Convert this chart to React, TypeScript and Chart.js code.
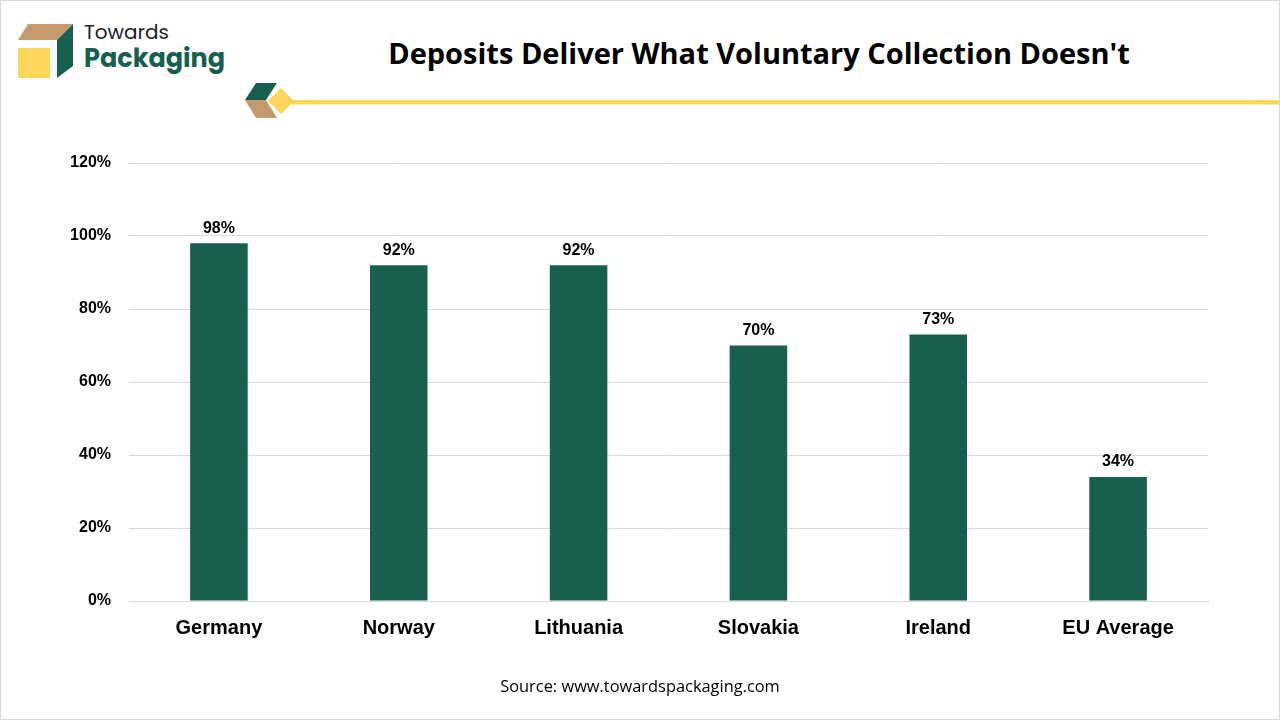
import React, { useEffect, useRef } from 'react';
import { Chart } from 'chart.js/auto';

const countries = ['Germany', 'Norway', 'Lithuania', 'Slovakia', 'Ireland', 'EU Average'];
const collectionRates = [98, 92, 92, 70, 73, 34];
const yTicks = [0, 20, 40, 60, 80, 100, 120];

const GREEN = '#17604f';
const TAN = '#c49a6c';
const YELLOW = '#fcd65b';

const valueLabels = {
  id: 'valueLabels',
  afterDatasetsDraw(chart: Chart) {
    const ctx = chart.ctx;
    const meta = chart.getDatasetMeta(0);
    ctx.save();
    ctx.font = 'bold 16px "Liberation Sans", Arial, sans-serif';
    ctx.fillStyle = '#000';
    ctx.textAlign = 'center';
    ctx.textBaseline = 'bottom';
    meta.data.forEach((bar: any, i: number) => {
      ctx.fillText(collectionRates[i] + '%', bar.x, bar.y - 7);
    });
    ctx.restore();
  },
};

function BarChart() {
  const ref = useRef<HTMLCanvasElement>(null);
  const chartRef = useRef<Chart | null>(null);
  useEffect(() => {
    if (!ref.current) return;
    const ctx = ref.current.getContext('2d'); if (!ctx) return;
    chartRef.current?.destroy();
    chartRef.current = new Chart(ctx, {
      type: 'bar',
      data: {
        labels: countries,
        datasets: [{ data: collectionRates, backgroundColor: GREEN, barPercentage: 0.64, categoryPercentage: 0.5 }],
      },
      options: {
        responsive: false,
        animation: false,
        layout: { padding: { top: 32, right: 72, bottom: 60, left: 0 } },
        plugins: { legend: { display: false }, tooltip: { enabled: false } },
        scales: {
          x: {
            grid: { display: false, drawTicks: false },
            border: { display: true, color: '#d9d9d9' },
            ticks: { color: '#000', padding: 15, font: { family: '"Liberation Sans", Arial, sans-serif', size: 20, weight: 'bold' } },
            afterFit: (s: any) => { s.height = 60; },
          },
          y: {
            min: 0,
            max: 120,
            afterBuildTicks: (s: any) => { s.ticks = yTicks.map(v => ({ value: v })); },
            grid: { color: '#d9d9d9', drawTicks: false },
            border: { display: false },
            ticks: {
              color: '#000',
              padding: 18,
              font: { family: '"Liberation Sans", Arial, sans-serif', size: 16, weight: 'bold' },
              callback: (v: any) => v + '%',
            },
            afterFit: (s: any) => { s.width = 129; },
          },
        },
      },
      plugins: [valueLabels],
    });
    return () => chartRef.current?.destroy();
  }, []);
  return <canvas ref={ref} width={1280} height={590} style={{ position: 'absolute', left: -1, top: 130 }} />;
}

export default function App() {
  return (
    <div style={{ position: 'absolute', left: 0, top: 0, width: 1280, height: 720, background: '#fff', border: '1px solid #d9d9d9', boxSizing: 'border-box', overflow: 'hidden' }}>
      <svg width={1280} height={130} style={{ position: 'absolute', left: -1, top: -1 }}>
        <polygon points="28,24 73,24 57,40 18,40" fill={TAN} />
        <polygon points="57,40 73,24 73,66 57,78" fill={GREEN} />
        <rect x={18} y={48} width={32} height={30} fill={YELLOW} />
        <text x={84} y={39} fontFamily="Poppins, 'Open Sans', sans-serif" fontSize={20} fill="#222">Towards</text>
        <text x={84} y={67} fontFamily="Poppins, 'Open Sans', sans-serif" fontSize={25.5} fontWeight="bold" fill={GREEN}>Packaging</text>
        <polygon points="245,100 256,83 277,83 266,100" fill={GREEN} />
        <polygon points="245,100 266,100 277,118 256,118" fill={TAN} />
        <rect x={285} y={100} width={995} height={4.5} fill={YELLOW} />
        <polygon points="281,88 294,101 281,114 268,101" fill={YELLOW} />
        <text x={759} y={64} textAnchor="middle" fontFamily="'Open Sans', sans-serif" fontSize={29} fontWeight="bold" fill="#000">Deposits Deliver What Voluntary Collection Doesn't</text>
      </svg>
      <BarChart />
      <div style={{ position: 'absolute', left: -1, width: 1280, top: 673, textAlign: 'center', fontFamily: "'Open Sans', sans-serif", fontSize: 16.4, color: '#000' }}>
        Source: www.towardspackaging.com
      </div>
    </div>
  );
}
